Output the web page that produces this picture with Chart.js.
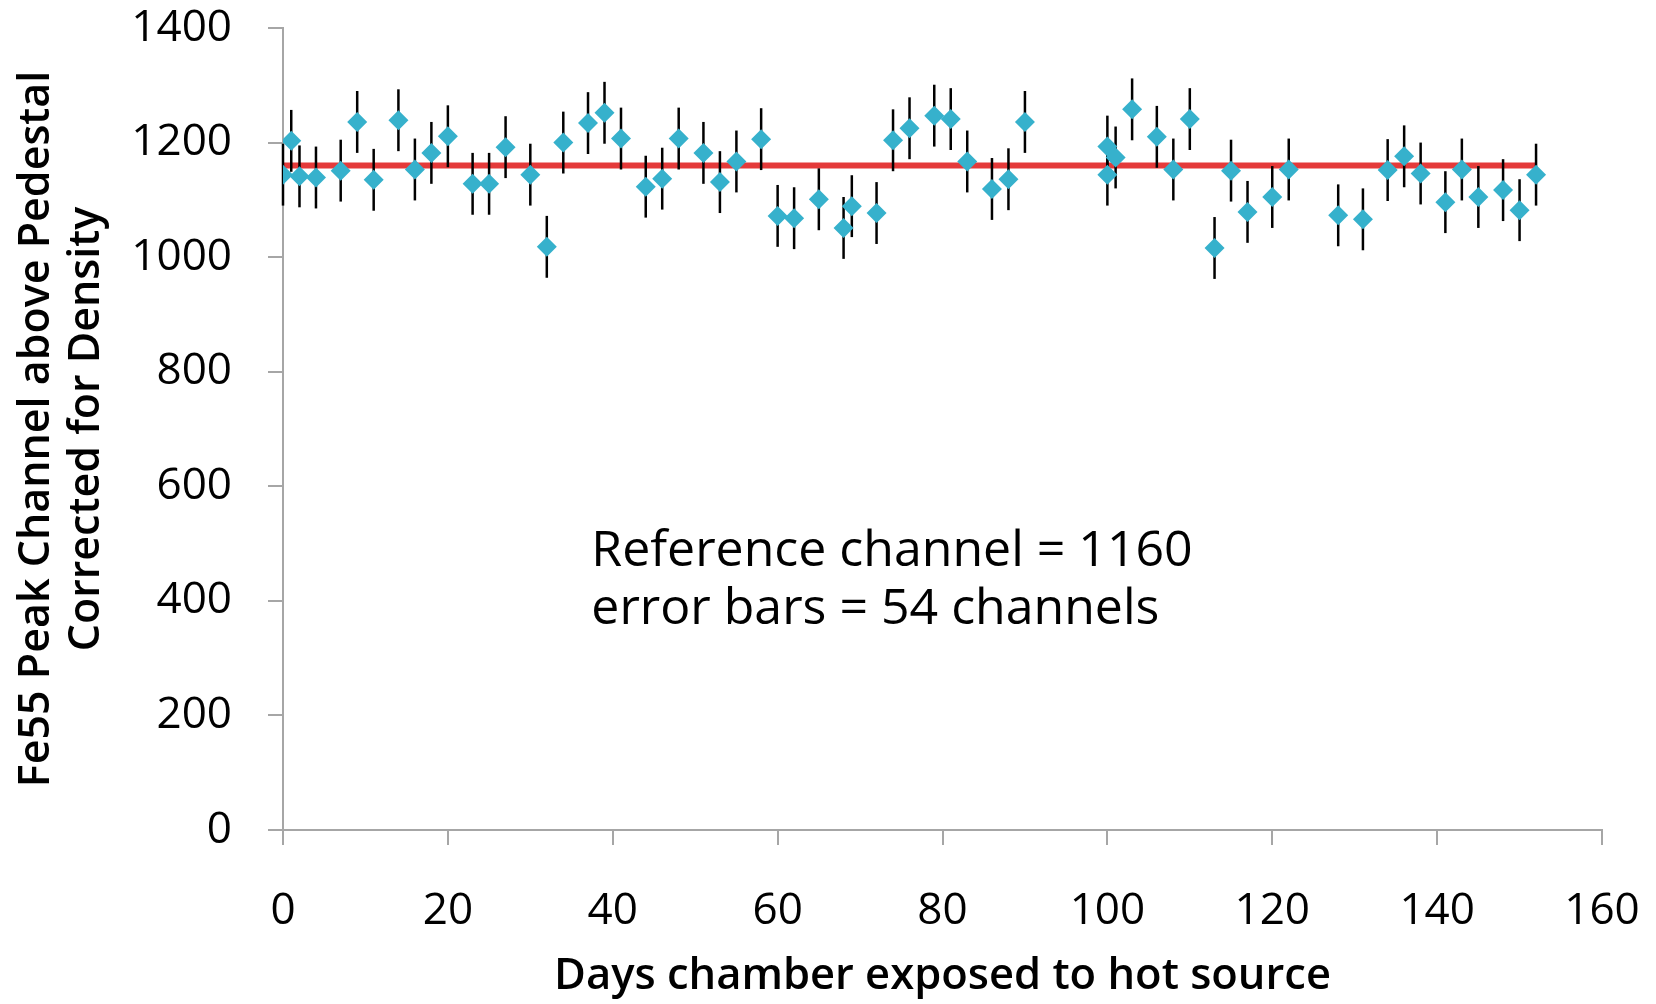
<!DOCTYPE html>
<html>
<head>
<meta charset="utf-8">
<script src="https://cdn.jsdelivr.net/npm/chart.js@4"></script>
<style>
    body { margin: 0; background: #ffffff; }
    #wrap { width: 1656px; height: 1004px; }
</style>
</head>
<body>
<div id="wrap"><canvas id="fe55Chart"></canvas></div>
<script>
// ===============================
// DATA
// ===============================
const days = [0, 1, 2, 4, 7, 9, 11, 14, 16, 18, 20, 23, 25, 27, 30, 32, 34, 37, 39, 41,
    44, 46, 48, 51, 53, 55, 58, 60, 62, 65, 68, 69, 72, 74, 76, 79, 81, 83, 86, 88,
    90, 100, 100, 101, 103, 106, 108, 110, 113, 115, 117, 120, 122, 128, 131, 134, 136, 138, 141, 143,
    145, 148, 150, 152];

const peakChannel = [1144, 1203, 1141, 1139, 1151, 1236, 1135, 1239, 1153, 1182, 1211, 1128, 1128, 1192, 1144, 1018, 1200, 1234, 1252, 1207,
    1123, 1137, 1207, 1182, 1131, 1167, 1206, 1072, 1068, 1101, 1051, 1089, 1077, 1204, 1225, 1247, 1241, 1167, 1119, 1136,
    1236, 1193, 1144, 1174, 1258, 1210, 1153, 1241, 1016, 1151, 1079, 1105, 1153, 1073, 1066, 1152, 1176, 1146, 1096, 1153,
    1105, 1117, 1082, 1144];

const refDays = [0, 152];
const refChannel = 1160;
const errorBar = 54;

const xTicks = [0, 20, 40, 60, 80, 100, 120, 140, 160];
const yTicks = [0, 200, 400, 600, 800, 1000, 1200, 1400];

const noteLines = ["Reference channel = " + refChannel, "error bars = " + errorBar + " channels"];

// ===============================
// PLUGINS
// ===============================
const errorBarsPlugin = {
    id: "errorBars",
    afterDatasetDraw(chart, args) {
        if (args.index !== 1) return;   // right after the reference line, under the diamonds
        const { ctx, scales: { x, y } } = chart;
        ctx.save();
        ctx.strokeStyle = "#000000";
        ctx.lineWidth = 2.5;
        days.forEach((d, i) => {
            const px = x.getPixelForValue(d);
            ctx.beginPath();
            ctx.moveTo(px, y.getPixelForValue(peakChannel[i] - errorBar));
            ctx.lineTo(px, y.getPixelForValue(peakChannel[i] + errorBar));
            ctx.stroke();
        });
        ctx.restore();
    }
};

const notePlugin = {
    id: "note",
    afterDraw(chart) {
        const { ctx, scales: { x, y } } = chart;
        ctx.save();
        ctx.font = '50px "Open Sans"';
        ctx.fillStyle = "#000000";
        ctx.textAlign = "left";
        ctx.textBaseline = "middle";
        const left = x.getPixelForValue(37.4);
        const top = y.getPixelForValue(485);
        noteLines.forEach((line, i) => ctx.fillText(line, left, top + i * 58));
        ctx.restore();
    }
};

// ===============================
// CHART
// ===============================
Chart.defaults.font.family = '"Open Sans"';
Chart.defaults.color = "#000000";

const axisGrey = "#a6a6a6";

new Chart(document.getElementById("fe55Chart"), {
    type: "scatter",
    data: {
        datasets: [{
            data: days.map((d, i) => ({ x: d, y: peakChannel[i] })),
            pointStyle: "rectRot",
            pointRadius: 10,
            backgroundColor: "#36b1cc",
            borderColor: "#36b1cc",
            borderWidth: 0
        }, {
            type: "line",
            data: refDays.map(d => ({ x: d, y: refChannel })),
            borderColor: "#e43a3a",
            borderWidth: 6,
            pointRadius: 0,
            fill: false
        }]
    },
    options: {
        responsive: true,
        maintainAspectRatio: false,
        animation: false,
        layout: {
            padding: { top: 28, right: 54, left: 0, bottom: 0 }
        },
        plugins: {
            legend: { display: false },
            tooltip: { enabled: false }
        },
        scales: {
            x: {
                type: "linear",
                min: 0,
                max: 160,
                afterBuildTicks: s => { s.ticks = xTicks.map(v => ({ value: v })); },
                afterFit: s => {
                    s.height = 174;
                    s.paddingLeft = 0;
                    s.paddingRight = 0;
                },
                grid: { drawOnChartArea: false, tickLength: 15, color: axisGrey, lineWidth: 2 },
                border: { color: axisGrey, width: 2 },
                ticks: { padding: 40, font: { size: 44 }, callback: v => String(v) },
                title: {
                    display: true,
                    text: "Days chamber exposed to hot source",
                    font: { size: 43.5, weight: "600", lineHeight: 1.1 },
                    padding: { top: 0, bottom: 3 }
                }
            },
            y: {
                min: 0,
                max: 1400,
                afterBuildTicks: s => { s.ticks = yTicks.map(v => ({ value: v })); },
                afterFit: s => {
                    s.width = 283;
                    s.paddingTop = 0;
                    s.paddingBottom = 0;
                },
                grid: { drawOnChartArea: false, tickLength: 15, color: axisGrey, lineWidth: 2 },
                border: { color: axisGrey, width: 2 },
                ticks: { padding: 36, font: { size: 44 }, callback: v => String(v) },
                title: {
                    display: true,
                    text: ["Fe55 Peak Channel above Pedestal", "Corrected for Density"],
                    font: { size: 43, weight: "600", lineHeight: 1.163 },
                    padding: { top: 12, bottom: 0 }
                }
            }
        }
    },
    plugins: [errorBarsPlugin, notePlugin]
});
</script>
</body>
</html>
